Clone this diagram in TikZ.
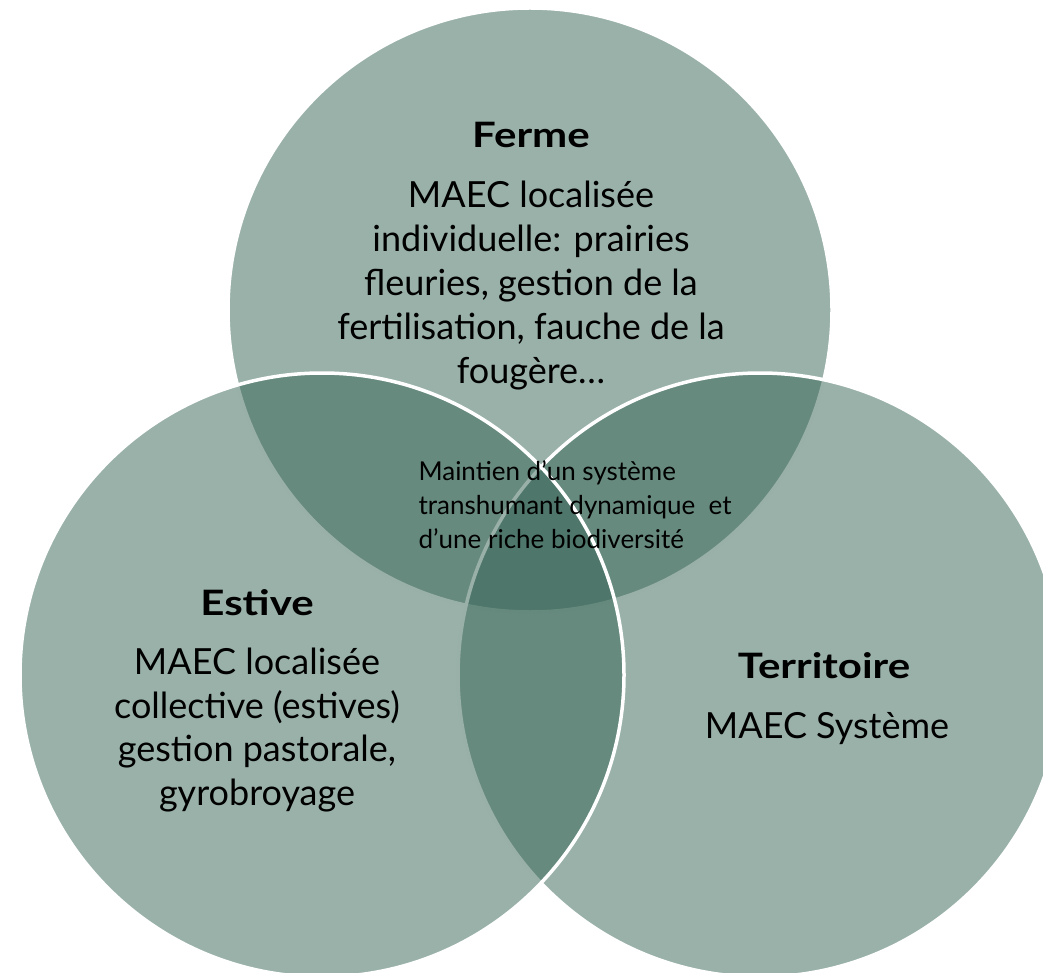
\documentclass[tikz,border=0pt]{standalone}
\usepackage{fontspec}
\setmainfont{Lato}
\newfontfamily\titrefont{Lato}[FakeStretch=1.2]
\definecolor{sauge}{RGB}{53,99,85}

\begin{document}
\begin{tikzpicture}[x=1pt,y=-1pt,
  venn/.style={fill=sauge,fill opacity=0.5,draw=white,line width=3.5pt},
  titre/.style={font=\fontsize{35}{44}\selectfont\titrefont\bfseries,anchor=base},
  corps/.style={font=\fontsize{36}{44}\selectfont,align=center,anchor=base},
  centre/.style={font=\fontsize{26}{34}\selectfont,align=left,anchor=base west}]
\useasboundingbox (0,0) rectangle (1043,973);
\clip (0,0) rectangle (1043,973);

% les trois cercles
\filldraw[venn] (530,310) circle (302pt);
\filldraw[venn] (760,675) circle (302pt);
\filldraw[venn] (322,675) circle (302pt);

% textes (ancre base = ligne du bas)
\node[titre] (ferme) at (531,148) {Ferme};
\node[corps] (fermetxt) at (531,383) {MAEC localisée\\individuelle: prairies\\fleuries, gestion de la\\fertilisation, fauche de la\\fougère…};

\node[titre] (estive) at (257,615) {Estive};
\node[corps,font=\fontsize{36}{43.5}\selectfont] (estivetxt) at (257,805) {MAEC localisée\\collective (estives)\\gestion pastorale,\\gyrobroyage};

\node[titre] (territoire) at (824,678) {Territoire};
\node[corps] (territoiretxt) at (827,738) {MAEC Système};

\node[centre] (commun) at (415,548) {Maintien d’un système\\transhumant dynamique~ et\\d’une riche biodiversité};
\end{tikzpicture}
\end{document}
